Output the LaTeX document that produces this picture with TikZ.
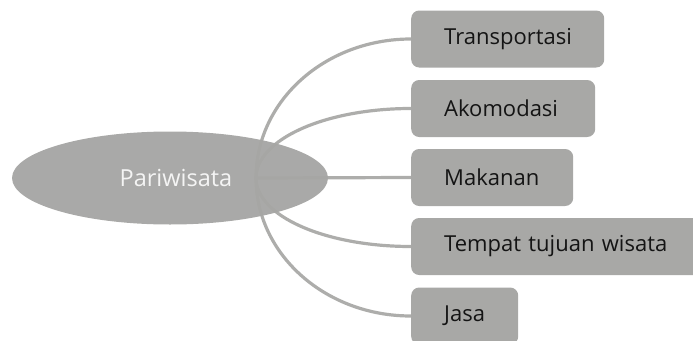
\documentclass[tikz,border=0pt]{standalone}
\usepackage{fontspec}
\setmainfont{Open Sans}
\usetikzlibrary{shapes.geometric,backgrounds}
\definecolor{boxgray}{HTML}{A8A8A6}
\definecolor{ellgray}{HTML}{A6A6A4}
\definecolor{linegray}{HTML}{ADADAB}
\definecolor{txtdark}{HTML}{141414}
\definecolor{txtlight}{HTML}{F4F4F4}
\tikzset{
  catbox/.style={fill=boxgray, rounded corners=8pt, inner xsep=33pt, inner ysep=0pt,
    minimum height=57pt, text width=#1, align=left, anchor=west,
    text=txtdark, font=\fontsize{22}{26}\selectfont},
  hub/.style={ellipse, fill=ellgray, fill opacity=0.96, text opacity=1, minimum width=316pt,
    minimum height=93pt, inner sep=0pt, text=txtlight, font=\fontsize{23.5}{28}\selectfont},
  link/.style={draw=linegray, line width=3.2pt}
}
\begin{document}
\begin{tikzpicture}[x=1pt,y=-1pt]
\useasboundingbox (0,0) rectangle (693,340);
\clip (0,0) rectangle (693,340);
\node[hub] (p) at (170,178) {\hspace*{12pt}\raisebox{-1pt}{Pariwisata}};
\coordinate (o) at (256,178);
\node[catbox=127pt] (t) at (411,39) {\raisebox{-1.5pt}{\mbox{Transportasi}}};
\node[catbox=118pt] (a) at (411,108.5) {\raisebox{-1.5pt}{\mbox{Akomodasi}}};
\node[catbox=96pt] (m) at (411,177.5) {\raisebox{-1.5pt}{\mbox{Makanan}}};
\node[catbox=224pt] (w) at (411,246.5) {\raisebox{-1.5pt}{\mbox{Tempat tujuan wisata}}};
\node[catbox=41pt] (j) at (411,316) {\raisebox{-1.5pt}{\mbox{Jasa}}};
\begin{scope}[on background layer]
\draw[link] (o) .. controls +(0,-77) and +(-86,0) .. (t.west);
\draw[link] (o) .. controls +(0,-38.5) and +(-86,0) .. (a.west);
\draw[link] (o) -- (m.west);
\draw[link] (o) .. controls +(0,38) and +(-86,0) .. (w.west);
\draw[link] (o) .. controls +(0,76) and +(-86,0) .. (j.west);
\end{scope}
\end{tikzpicture}
\end{document}
